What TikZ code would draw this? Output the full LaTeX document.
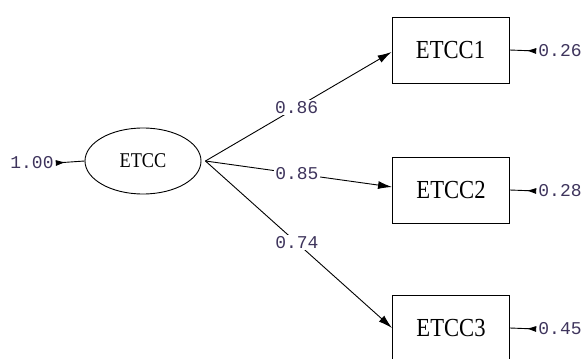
\documentclass[tikz,border=0pt]{standalone}
\usepackage{fontspec}
\usetikzlibrary{arrows.meta,shapes.geometric}
\newfontfamily\varfont{Liberation Serif}[FakeStretch=0.87]
\newfontfamily\numfont{Liberation Mono}
\definecolor{numink}{RGB}{62,52,92}
\tikzset{
  obsbox/.style={draw, line width=0.9pt, minimum width=117pt, minimum height=66pt,
    inner sep=0pt, font=\varfont\fontsize{26}{30}\selectfont},
  latvar/.style={draw, ellipse, line width=0.9pt, minimum width=116pt, minimum height=66pt,
    inner sep=0pt, font=\varfont\fontsize{21}{25}\selectfont},
  coef/.style={fill=white, inner sep=1.5pt, text=numink, font=\numfont\fontsize{18}{20}\selectfont},
  errlbl/.style={inner sep=2pt, text=numink, font=\numfont\fontsize{18}{20}\selectfont},
  loading/.style={line width=0.9pt, -{Latex[length=14pt,width=8pt]}},
  errarrow/.style={line width=0.9pt, {Latex[length=10pt,width=6pt,reversed]}-}
}
\begin{document}
\begin{tikzpicture}[x=1pt,y=-1pt]
  \useasboundingbox (0,0) rectangle (585,358);
  \clip (0,0) rectangle (585,358);

  % latent variable and its indicators
  \node[latvar] (lat) at (143,161) {ETCC};
  \node[obsbox] (b1) at (450.5,50) {ETCC1};
  \node[obsbox] (b2) at (451,190) {ETCC2};
  \node[obsbox] (b3) at (451,328) {ETCC3};

  % variance of the latent variable
  \node[errlbl] (v0) at (32,163) {1.00};
  \draw[errarrow] (v0.east) -- (lat.west);

  % error variances of the indicators
  \node[errlbl] (e1) at (560,51) {0.26};
  \node[errlbl] (e2) at (560,191) {0.28};
  \node[errlbl] (e3) at (560,329) {0.45};
  \draw[errarrow] (e1.west) -- (b1.east);
  \draw[errarrow] (e2.west) -- (b2.east);
  \draw[errarrow] (e3.west) -- (b3.east);

  % factor loadings
  \coordinate (s) at ([xshift=4pt]lat.east);
  \draw[loading] (s) -- node[coef, pos=0.49] {0.86} ([yshift=-2pt]b1.west);
  \draw[loading] (s) -- node[coef, pos=0.49] {0.85} ([yshift=3pt]b2.west);
  \draw[loading] (s) -- node[coef, pos=0.49] {0.74} (b3.west);
\end{tikzpicture}
\end{document}
